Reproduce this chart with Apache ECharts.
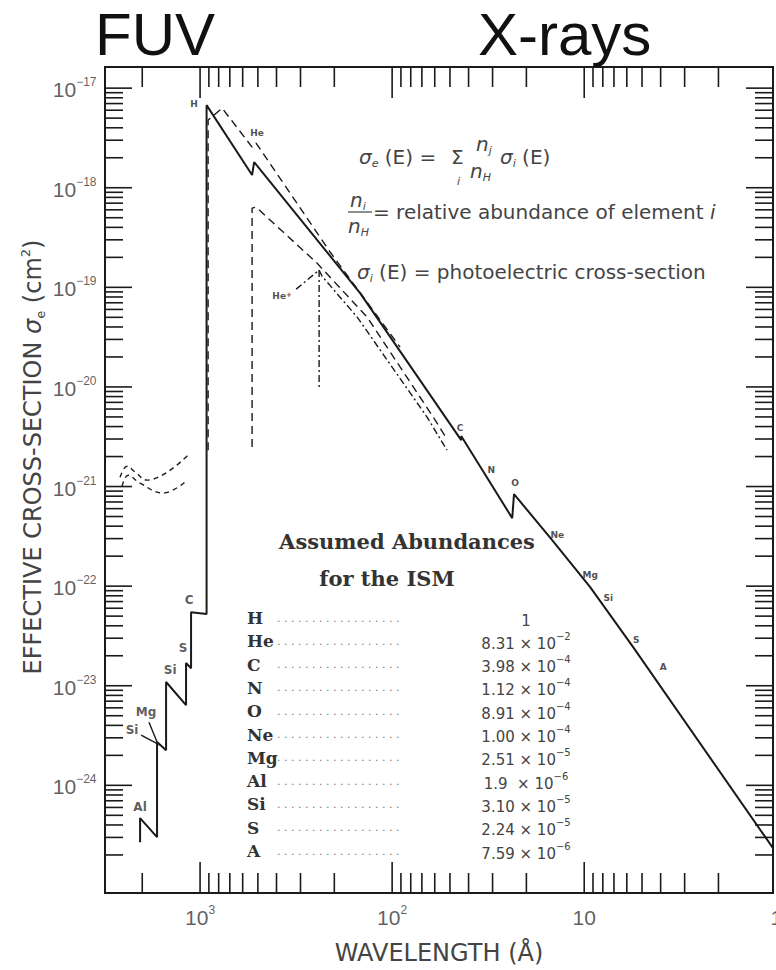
<!DOCTYPE html>
<html>
<head>
<meta charset="utf-8">
<script src="https://cdn.jsdelivr.net/npm/echarts@6/dist/echarts.min.js"></script>
<style>
html,body{margin:0;padding:0;background:#ffffff;}
#chart{width:776px;height:970px;}
</style>
</head>
<body>
<div id="chart"></div>
<script>
// ---------------- DATA ----------------
// axis extents (wavelength in Angstrom, cross-section in cm^2)
const waveMin = 1.04, waveMax = 3126;
const sigmaMin = 8.3e-26, sigmaMax = 1.63e-17;

// tick positions
const xMajorTicks = [1000, 100, 10];
const xMinorTicks = [2000, 900, 800, 700, 600, 500, 400, 300, 200,
                     90, 80, 70, 60, 50, 40, 30, 20,
                     9, 8, 7, 6, 5, 4, 3, 2];
const xTickLabelValues = [1000, 100, 10, 1];
const xTickLabelBase = ['10', '10', '10', '1'];
const xTickLabelExp = ['3', '2', '', ''];
const yMajorTicks = [1e-17, 1e-18, 1e-19, 1e-20, 1e-21, 1e-22, 1e-23, 1e-24];
const yMinorMantissas = [2, 3, 4, 5, 6, 7, 8, 9];
const yMinorDecades = [-25, -24, -23, -22, -21, -20, -19, -18];
const yTickLabelExp = ['−17', '−18', '−19', '−20', '−21', '−22', '−23', '−24'];

// total effective cross-section (solid)
const totalWave  = [2053, 2053, 1675, 1675, 1503, 1503, 1183, 1183, 1114, 1114, 925, 925,
                    536, 523, 146.8, 43.7, 43.7, 23.7, 23.2, 14.68, 9.31, 5.56, 1.04];
const totalSigma = [2.69e-25, 4.69e-25, 3.02e-25, 2.72e-24, 2.25e-24, 1.09e-23, 6.38e-24, 1.69e-23,
                    1.50e-23, 5.48e-23, 5.24e-23, 6.75e-18, 1.34e-18, 1.81e-18, 8.75e-20, 2.92e-21,
                    3.21e-21, 4.82e-22, 8.39e-22, 2.90e-22, 9.77e-23, 2.44e-23, 2.34e-25];
// small Mg / Si stubs near 1600-2000 A
const mgStubWave = [1845, 1675];
const mgStubSigma = [4.31e-24, 2.72e-24];
const siStubWave = [2028, 1616];
const siStubSigma = [3.19e-24, 2.53e-24];

// upper dashed curve
const dashAWave  = [908, 908, 768, 536, 511, 210, 90.9];
const dashASigma = [2.32e-21, 4.78e-18, 6.30e-18, 2.56e-18, 2.81e-18, 2.25e-19, 2.51e-20];
// lower dashed curve
const dashBWave  = [536, 536, 511, 246, 134.9, 61.1, 53.0];
const dashBSigma = [2.49e-21, 6.24e-19, 6.38e-19, 1.75e-19, 5.02e-20, 4.98e-21, 3.21e-21];
// He+ (dash-dot)
const hePlusWave  = [316, 240, 231.5, 152, 65.8, 51.8];
const hePlusSigma = [9.59e-20, 1.49e-19, 1.29e-19, 5.02e-20, 4.98e-21, 2.32e-21];
const hePlusEdgeWave  = [240, 240];
const hePlusEdgeSigma = [1.49e-19, 9.95e-21];
// dust extinction (wavy dashed curves near 1e-21)
const dust1Wave  = [2610, 2400, 2180, 1888, 1155];
const dust1Sigma = [1.24e-21, 1.60e-21, 1.40e-21, 1.16e-21, 2.07e-21];
const dust2Wave  = [2547, 2371, 2053, 1559, 1197];
const dust2Sigma = [1.01e-21, 1.30e-21, 1.08e-21, 8.59e-22, 1.11e-21];

// edge labels
const edgeLabelText  = ['H', 'He', 'He+', 'C', 'N', 'O', 'Ne', 'Mg', 'Si', 'S', 'A'];
const edgeLabelWave  = [1075, 505, 374, 44.3, 30.5, 22.9, 13.8, 9.31, 7.5, 5.36, 3.88];
const edgeLabelSigma = [6.90e-18, 3.53e-18, 8.17e-20, 3.85e-21, 1.46e-21, 1.08e-21, 3.25e-22, 1.29e-22, 7.59e-23, 2.87e-23, 1.54e-23];
const lowLabelText  = ['Al', 'Mg', 'Si', 'Si', 'S', 'C'];
const lowLabelWave  = [2053, 1911, 2259, 1432, 1226, 1141];
const lowLabelSigma = [6.04e-25, 5.43e-24, 3.58e-24, 1.44e-23, 2.39e-23, 7.23e-23];

// abundance table
const elements = ['H', 'He', 'C', 'N', 'O', 'Ne', 'Mg', 'Al', 'Si', 'S', 'A'];
const abundMantissa = ['1', '8.31', '3.98', '1.12', '8.91', '1.00', '2.51', '1.9 ', '3.10', '2.24', '7.59'];
const abundExponent = ['', '−2', '−4', '−4', '−4', '−4', '−5', '−6', '−5', '−5', '−6'];

// ---------------- BUILD ----------------
const zip = (a, b) => a.map((v, i) => [v, b[i]]);

const tickData = [];
xMajorTicks.forEach(v => tickData.push([v, sigmaMin, 0]));
xMinorTicks.forEach(v => tickData.push([v, sigmaMin, 1]));
yMajorTicks.forEach(v => tickData.push([waveMax, v, 2]));
yMinorDecades.forEach(d => yMinorMantissas.forEach(m => {
  const v = m * Math.pow(10, d);
  if (v < sigmaMax) tickData.push([waveMax, v, 3]);
}));

const ink = '#1a1a1a';
const txt = '#363636';

function renderTick(params, api) {
  const cs = params.coordSys;
  const code = api.value(2);
  const st = {stroke: ink, lineWidth: 1.6};
  if (code < 2) {
    const len = code === 0 ? 31 : 20;
    const px = api.coord([api.value(0), sigmaMax])[0];
    const b = cs.y + cs.height;
    return {type: 'group', children: [
      {type: 'line', shape: {x1: px, y1: b, x2: px, y2: b - len}, style: st},
      {type: 'line', shape: {x1: px, y1: cs.y, x2: px, y2: cs.y + len}, style: st}
    ]};
  }
  const len = code === 2 ? 27 : 18;
  const py = api.coord([waveMax, api.value(1)])[1];
  const r = cs.x + cs.width;
  return {type: 'group', children: [
    {type: 'line', shape: {x1: cs.x, y1: py, x2: cs.x + len, y2: py}, style: st},
    {type: 'line', shape: {x1: r, y1: py, x2: r - len, y2: py}, style: st}
  ]};
}

function lineSeries(wave, sigma, width, type) {
  return {
    type: 'line', data: zip(wave, sigma), showSymbol: false, symbol: 'none',
    silent: true, z: 3,
    lineStyle: {color: ink, width: width, type: type || 'solid'}
  };
}

const supRich = {
  b: {fontFamily: 'Liberation Sans', fontSize: 21, color: txt, verticalAlign: 'bottom', lineHeight: 24},
  s: {fontFamily: 'Liberation Sans', fontSize: 12, color: txt, verticalAlign: 'top', lineHeight: 24}
};

const textEl = (x, y, text, style) => ({
  type: 'text', x: x, y: y, silent: true, z: 10,
  style: Object.assign({text: text, fill: txt, verticalAlign: 'middle', align: 'left'}, style || {})
});

const fRich = {
  t: {fontFamily: 'DejaVu Sans', fontSize: 20, fill: '#444', verticalAlign: 'middle', lineHeight: 24},
  i: {fontFamily: 'DejaVu Sans', fontSize: 20, fontStyle: 'italic', fill: '#444', verticalAlign: 'middle', lineHeight: 24},
  s: {fontFamily: 'DejaVu Sans', fontSize: 11, fontStyle: 'italic', fill: '#444', verticalAlign: 'bottom', lineHeight: 24}
};

const graphics = [
  textEl(95, 34, 'FUV', {font: '60px "Liberation Sans"', fill: '#111'}),
  textEl(478, 34, 'X-rays', {font: '60px "Liberation Sans"', fill: '#111'}),
  // formula line 1
  textEl(359, 157, '{i|σ}{s|e}{t| (E) =}', {rich: fRich}),
  textEl(451, 157, '{t|Σ}', {rich: fRich}),
  textEl(457, 175, '{s|i}', {rich: fRich}),
  textEl(476, 144, '{i|n}{s|j}', {rich: fRich}),
  textEl(470, 171, '{i|n}{s|H}', {rich: fRich}),
  textEl(500, 157, '{i|σ}{s|i}{t| (E)}', {rich: fRich}),
  // formula line 2
  textEl(350, 200, '{i|n}{s|i}', {rich: fRich}),
  {type: 'line', silent: true, shape: {x1: 348, y1: 212, x2: 372, y2: 212}, style: {stroke: '#444', lineWidth: 1.2}},
  textEl(348, 226, '{i|n}{s|H}', {rich: fRich}),
  textEl(373, 212, '{t|= relative abundance of element }{i|i}', {rich: fRich}),
  // formula line 3
  textEl(357, 272, '{i|σ}{s|i}{t| (E) = photoelectric cross-section}', {rich: fRich}),
  // table title
  textEl(407, 541, 'Assumed Abundances', {font: 'bold 21px "DejaVu Serif"', fill: '#333', align: 'center'}),
  textEl(387, 578, 'for the ISM', {font: 'bold 21px "DejaVu Serif"', fill: '#333', align: 'center'})
];

const rowRich = {
  n: {fontFamily: 'DejaVu Serif', fontWeight: 'bold', fontSize: 17, fill: '#333', width: 30, verticalAlign: 'middle', lineHeight: 20},
  d: {fontFamily: 'DejaVu Sans', fontSize: 11, fill: '#777', verticalAlign: 'middle', lineHeight: 20}
};
elements.forEach((el, i) => {
  const y = 618 + 23.3 * i;
  graphics.push(textEl(247, y, '{n|' + el + '}{d|. . . . . . . . . . . . . . . . . .}', {rich: rowRich}));
  const val = abundExponent[i] ? '{v|' + abundMantissa[i] + ' × 10}{p|' + abundExponent[i] + '}' : '{v|' + abundMantissa[i] + '}';
  graphics.push(textEl(526, y, val, {align: 'center', rich: {
    v: {fontFamily: 'DejaVu Sans', fontSize: 15, fill: '#444', verticalAlign: 'bottom', lineHeight: 20},
    p: {fontFamily: 'DejaVu Sans', fontSize: 10, fill: '#444', verticalAlign: 'top', lineHeight: 20}
  }}));
});

const option = {
  animation: false,
  backgroundColor: '#ffffff',
  grid: {left: 105, right: 3, top: 67, bottom: 77, show: true, borderColor: ink, borderWidth: 2,
         containLabel: false, outerBoundsMode: 'none'},
  xAxis: {
    type: 'log', logBase: 10, min: waveMin, max: waveMax, inverse: true,
    axisLine: {show: false}, axisTick: {show: false}, axisLabel: {show: false}, splitLine: {show: false},
    name: 'WAVELENGTH (Å)', nameLocation: 'middle', nameGap: 48,
    nameTextStyle: {fontFamily: 'DejaVu Sans', fontSize: 24, color: '#444'}
  },
  yAxis: {
    type: 'log', logBase: 10, min: sigmaMin, max: sigmaMax,
    axisLine: {show: false}, axisTick: {show: false}, axisLabel: {show: false}, splitLine: {show: false},
    name: '{a|EFFECTIVE CROSS-SECTION }{g|σ}{b|e}{a| (cm}{c|2}{a|)}',
    nameLocation: 'middle', nameGap: 58, nameRotate: 90,
    nameTextStyle: {
      padding: [0, 0, 0, 46],
      rich: {
        a: {fontFamily: 'DejaVu Sans', fontSize: 24, color: '#444', verticalAlign: 'middle', lineHeight: 28},
        g: {fontFamily: 'DejaVu Sans', fontSize: 24, fontStyle: 'italic', color: '#444', verticalAlign: 'middle', lineHeight: 28},
        b: {fontFamily: 'DejaVu Sans', fontSize: 13, color: '#444', verticalAlign: 'bottom', lineHeight: 28},
        c: {fontFamily: 'DejaVu Sans', fontSize: 13, color: '#444', verticalAlign: 'top', lineHeight: 28}
      }
    }
  },
  graphic: graphics,
  series: [
    {type: 'custom', renderItem: renderTick, data: tickData, encode: {x: 0, y: 1}, silent: true, z: 2},
    lineSeries(totalWave, totalSigma, 2),
    lineSeries(mgStubWave, mgStubSigma, 1.4),
    lineSeries(siStubWave, siStubSigma, 1.4),
    lineSeries(dashAWave, dashASigma, 1.4, [8, 5]),
    lineSeries(dashBWave, dashBSigma, 1.4, [8, 5]),
    lineSeries(hePlusWave, hePlusSigma, 1.4, [7, 3, 2, 3]),
    lineSeries(hePlusEdgeWave, hePlusEdgeSigma, 1.4, [7, 3, 2, 3]),
    Object.assign(lineSeries(dust1Wave, dust1Sigma, 1.4, [5, 4]), {smooth: 0.4}),
    Object.assign(lineSeries(dust2Wave, dust2Sigma, 1.4, [5, 4]), {smooth: 0.4}),
    // axis tick labels
    {
      type: 'scatter', symbolSize: 1, clip: false, silent: true, itemStyle: {color: 'rgba(0,0,0,0)'},
      data: xTickLabelValues.map((v, i) => ({value: [v, sigmaMin], base: xTickLabelBase[i], exp: xTickLabelExp[i]})),
      label: {show: true, position: 'bottom', distance: 10, rich: supRich,
        formatter: p => '{b|' + p.data.base + '}' + (p.data.exp ? '{s|' + p.data.exp + '}' : '')}
    },
    {
      type: 'scatter', symbolSize: 1, clip: false, silent: true, itemStyle: {color: 'rgba(0,0,0,0)'},
      data: yMajorTicks.map((v, i) => ({value: [waveMax, v], exp: yTickLabelExp[i]})),
      label: {show: true, position: 'left', distance: 8, rich: supRich,
        formatter: p => '{b|10}{s|' + p.data.exp + '}'}
    },
    // edge labels
    {
      type: 'scatter', symbolSize: 1, clip: false, silent: true, itemStyle: {color: 'rgba(0,0,0,0)'}, z: 5,
      data: edgeLabelText.map((t, i) => ({value: [edgeLabelWave[i], edgeLabelSigma[i]], name: t})),
      label: {show: true, position: 'inside',
        formatter: p => p.name.replace('+', '{p|+}'),
        fontFamily: 'DejaVu Sans', fontWeight: 'bold', fontSize: 9, color: '#222',
        rich: {p: {fontFamily: 'DejaVu Sans', fontWeight: 'bold', fontSize: 7, color: '#222', verticalAlign: 'top'}}}
    },
    {
      type: 'scatter', symbolSize: 1, clip: false, silent: true, itemStyle: {color: 'rgba(0,0,0,0)'}, z: 5,
      data: lowLabelText.map((t, i) => ({value: [lowLabelWave[i], lowLabelSigma[i]], name: t})),
      label: {show: true, position: 'inside', formatter: p => p.name,
        fontFamily: 'DejaVu Sans', fontWeight: 'bold', fontSize: 12, color: '#333'}
    }
  ]
};

const chart = echarts.init(document.getElementById('chart'), null, {renderer: 'svg'});
chart.setOption(option);
</script>
</body>
</html>
